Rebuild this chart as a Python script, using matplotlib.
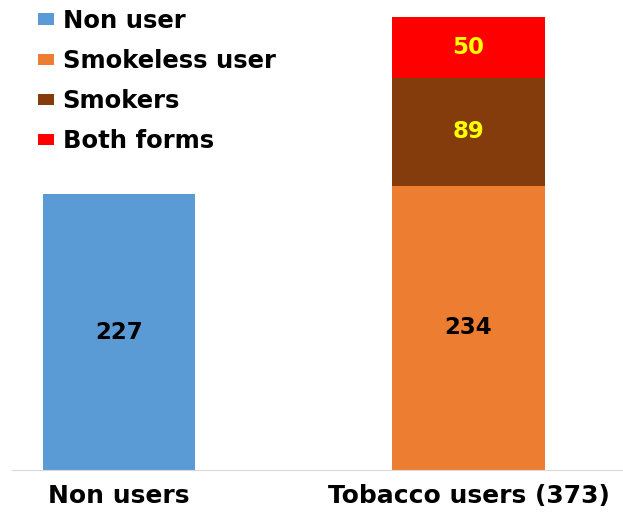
import matplotlib
matplotlib.use("Agg")
import matplotlib.pyplot as plt
from matplotlib.patches import Patch

categories = ["Non users", "Tobacco users (373)"]
series_names = ["Non user", "Smokeless user", "Smokers", "Both forms"]
non_user = [227, 0]
smokeless = [0, 234]
smokers = [0, 89]
both = [0, 50]
colors = ["#5B9BD5", "#ED7D31", "#843C0C", "#FF0000"]
label_colors = ["black", "black", "#FFFF00", "#FFFF00"]

W, H = 623, 512
fig = plt.figure(figsize=(W / 100, H / 100), dpi=100)
ax = fig.add_axes([12 / W, 42 / H, (W - 12) / W, (470 - 10) / H])
plt.rcParams['font.family'] = ['DejaVu Sans']

x = [0, 1]
width = 0.435
bottom = [0, 0]
for vals, col, lc in zip([non_user, smokeless, smokers, both], colors, label_colors):
    bars = ax.bar(x, vals, width, bottom=bottom, color=col)
    for xi, v, b in zip(x, vals, bottom):
        if v > 0:
            ax.text(xi, b + v / 2, str(v), ha="center", va="center",
                    fontsize=16.5, fontweight="bold", color=lc)
    bottom = [b + v for b, v in zip(bottom, vals)]

ax.set_xlim(-0.306, 1.442)
ax.set_ylim(0, 378.6)
ax.set_yticks([])
ax.set_xticks(x)
ax.set_xticklabels(categories, fontsize=18, fontweight="bold")
ax.tick_params(axis="x", length=0, pad=10)
for s in ["top", "right", "left"]:
    ax.spines[s].set_visible(False)
ax.spines["bottom"].set_color("#D9D9D9")

handles = [Patch(facecolor=c, edgecolor="none") for c in colors]
fs = 17.5
leg = ax.legend(handles, series_names, loc="upper left", bbox_to_anchor=(0.0426, 1.002),
                frameon=False, handlelength=0.66, handleheight=0.37, handletextpad=0.35,
                labelspacing=0.66, borderaxespad=0, borderpad=0,
                prop={"size": fs, "weight": "bold"})

fig.savefig("out.png", dpi=100)
